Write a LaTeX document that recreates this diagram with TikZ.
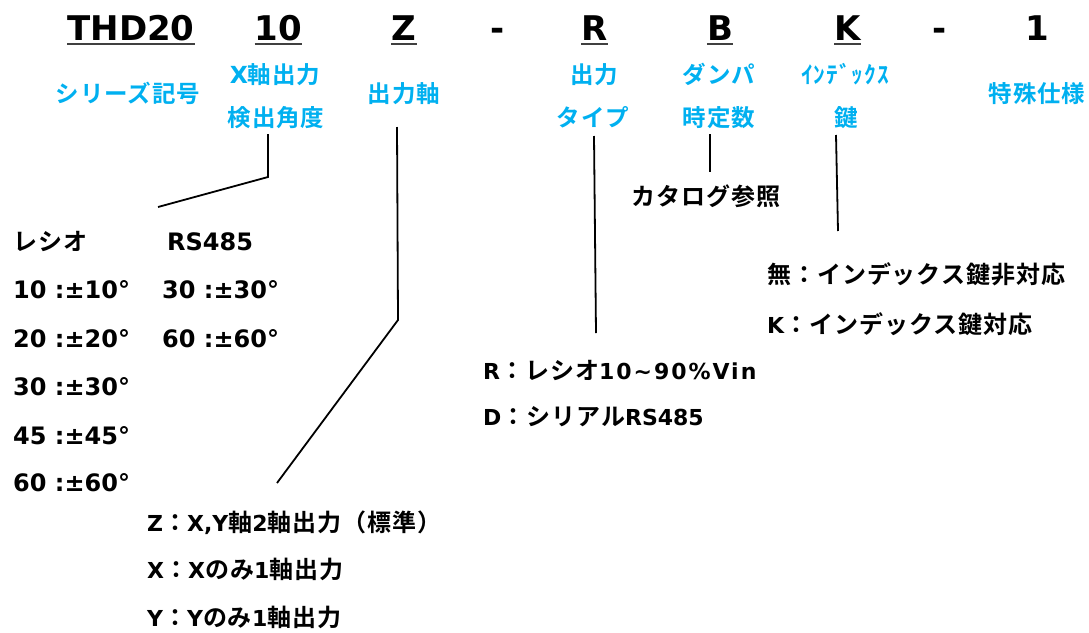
\documentclass[tikz,border=0pt]{standalone}
\usepackage{fontspec}
\setmainfont{Noto Sans CJK JP}[BoldFont={Noto Sans CJK JP Bold},LetterSpace=4]
\newfontfamily\ltnf{DejaVu Sans}[BoldFont={DejaVu Sans Bold}]
\newcommand\ltb[1]{{\ltnf\fontsize{22}{26}\selectfont #1}}
\definecolor{labblue}{RGB}{0,176,240}
\tikzset{
  code/.style={anchor=base, inner sep=0pt, font=\fontsize{34}{40}\selectfont\bfseries\ltnf},
  ul/.style={line width=1.6pt, black!75},
  lab/.style={anchor=base, inner sep=0pt, text=labblue, font=\fontsize{23.5}{27}\selectfont\bfseries},
  body/.style={anchor=base west, inner sep=0pt, font=\fontsize{24}{28}\selectfont\bfseries},
  leftcol/.style={anchor=base west, inner sep=0pt, font=\fontsize{24}{28}\selectfont\bfseries\ltnf},
  conn/.style={line width=1.8pt, black},
}
\begin{document}
\begin{tikzpicture}[x=1pt,y=-1pt]
\fill[white] (0,0) rectangle (1089,632);
\useasboundingbox (0,0) rectangle (1089,632);

% code row
\node[code] (cTHD) at (131,40) {THD20};
\node[code] (c10) at (278.5,40) {10};
\node[code] (cZ) at (404,40) {Z};
\node[code] (cd1) at (498,40) {-};
\node[code] (cR) at (594.5,40) {R};
\node[code] (cB) at (720,40) {B};
\node[code] (cK) at (847.5,40) {K};
\node[code] (cd2) at (940,40) {-};
\node[code] (c1) at (1037,40) {1};
\foreach \n in {cTHD,c10,cZ,cR,cB,cK}
  \draw[ul] ([yshift=-4pt]\n.base west) -- ([yshift=-4pt]\n.base east);

% blue labels
\node[lab] (lSeries) at (128,102) {シリーズ記号};
\node[lab] (lX1) at (275,83) {{\ltnf X}軸出力};
\node[lab] (lX2) at (276,126) {検出角度};
\node[lab] (lAxis) at (404,102) {出力軸};
\node[lab] (lOut1) at (594,83) {出力};
\node[lab] (lOut2) at (593,126) {タイプ};
\node[lab] (lDamp1) at (719,83) {ダンパ};
\node[lab] (lDamp2) at (719,126) {時定数};
\node[lab] (lIdx1) at (845,83) {ｲﾝﾃﾞｯｸｽ};
\node[lab] (lIdx2) at (846,126) {鍵};
\node[lab] (lSpec) at (1037,102) {特殊仕様};

% connectors
\coordinate (a0) at (268,134);
\coordinate (a1) at (268,177);
\coordinate (a2) at (158,207);
\draw[conn] (a0) -- (a1) -- (a2);
\coordinate (z0) at (397,127);
\coordinate (z1) at (398,320);
\coordinate (z2) at (277,483);
\draw[conn] (z0) -- (z1) -- (z2);
\coordinate (r0) at (594,136);
\coordinate (r1) at (596,333);
\draw[conn] (r0) -- (r1);
\coordinate (b0) at (710,134);
\coordinate (b1) at (710,172);
\draw[conn] (b0) -- (b1);
\coordinate (k0) at (836,135);
\coordinate (k1) at (838,231);
\draw[conn] (k0) -- (k1);

% left column
\node[body] (hRatio) at (13,250) {レシオ};
\node[leftcol] (hRS) at (167,250) {RS485};
\node[leftcol] (v10) at (13,298) {10 :±10°};
\node[leftcol] (v20) at (13,347) {20 :±20°};
\node[leftcol] (v30) at (13,395) {30 :±30°};
\node[leftcol] (v45) at (13,444) {45 :±45°};
\node[leftcol] (v60) at (13,491) {60 :±60°};
\node[leftcol] (w30) at (162,298) {30 :±30°};
\node[leftcol] (w60) at (162,347) {60 :±60°};

% output axis
\node[body] (zZ) at (147,531) {\ltb{Z}：\ltb{X,Y}軸\ltb{2}軸出力（標準）};
\node[body] (zX) at (147,578) {\ltb{X}：\ltb{X}のみ\ltb{1}軸出力};
\node[body] (zY) at (147,626) {\ltb{Y}：\ltb{Y}のみ\ltb{1}軸出力};

% output type
\node[body] (oR) at (483,379) {\ltb{R}：レシオ\ltb{\addfontfeature{LetterSpace=9}10\textasciitilde 90\%Vin}};
\node[body] (oD) at (483,425) {\ltb{D}：シリアル\ltb{RS485}};

% damper
\node[body, anchor=base] (cat) at (706,205) {カタログ参照};

% index key
\node[body] (kN) at (767,283) {無：インデックス鍵非対応};
\node[body] (kK) at (767,333) {\ltb{K}：インデックス鍵対応};
\end{tikzpicture}
\end{document}
